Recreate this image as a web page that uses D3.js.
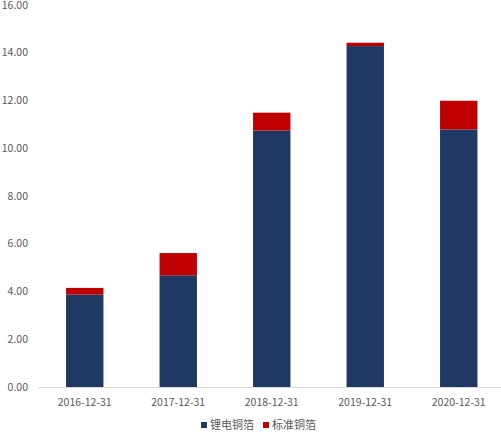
<!DOCTYPE html>
<html><head><meta charset="utf-8">
<script src="https://cdn.jsdelivr.net/npm/d3@7/dist/d3.min.js"></script>
<style>body{margin:0;background:#fff}svg{display:block}</style>
</head><body><svg id="c" width="501" height="437"></svg>
<script>
const categories = ["2016-12-31","2017-12-31","2018-12-31","2019-12-31","2020-12-31"];
const lithium = [3.87, 4.68, 10.74, 14.28, 10.79];
const standard = [0.28, 0.93, 0.75, 0.14, 1.20];
const seriesNames = ["锂电铜箔","标准铜箔"];
const yTicks = [0,2,4,6,8,10,12,14,16];
const colors = ["#203864","#C00000"];

const svg = d3.select("#c");
const font = "'Noto Sans CJK SC', 'Microsoft YaHei', sans-serif";
const x = d3.scaleBand().domain(categories).range([38, 505.5]).paddingInner(0.6).paddingOuter(0.3);
const y = d3.scaleLinear().domain([0,16]).range([387, 5]);

const data = categories.map((c,i)=>({cat:c, v0:lithium[i], v1:standard[i]}));
const stack = d3.stack().keys(["v0","v1"])(data);

svg.append("g").selectAll("g").data(stack).join("g")
  .attr("fill",(d,i)=>colors[i])
  .selectAll("rect").data(d=>d).join("rect")
  .attr("x",d=>x(d.data.cat))
  .attr("width",x.bandwidth())
  .attr("y",d=>y(d[1]))
  .attr("height",d=>y(d[0])-y(d[1]));

// x axis line
svg.append("line").attr("x1",38).attr("x2",501).attr("y1",y(0)+0.5).attr("y2",y(0)+0.5)
  .attr("stroke","#d9d9d9").attr("stroke-width",1);

// y tick labels
svg.append("g").selectAll("text").data(yTicks).join("text")
  .attr("x",28).attr("y",d=>y(d)).attr("dy","0.35em")
  .attr("text-anchor","end").attr("font-family",font).attr("font-size",10.5).attr("fill","#595959")
  .text(d=>d3.format(".2f")(d));

// x labels
svg.append("g").selectAll("text").data(categories).join("text")
  .attr("x",d=>x(d)+x.bandwidth()/2).attr("y",402).attr("dy","0.35em")
  .attr("text-anchor","middle").attr("font-family",font).attr("font-size",10.5).attr("fill","#595959")
  .text(d=>d);

// legend
const lg = svg.append("g").selectAll("g").data(seriesNames).join("g")
  .attr("transform",(d,i)=>`translate(${[201,263][i]},425)`);
lg.append("rect").attr("x",0).attr("y",-3).attr("width",6).attr("height",6).attr("fill",(d,i)=>colors[i]);
lg.append("text").attr("x",9).attr("y",0).attr("dy","0.35em").attr("font-family",font)
  .attr("font-size",11).attr("fill","#595959").text(d=>d);
</script></body></html>
